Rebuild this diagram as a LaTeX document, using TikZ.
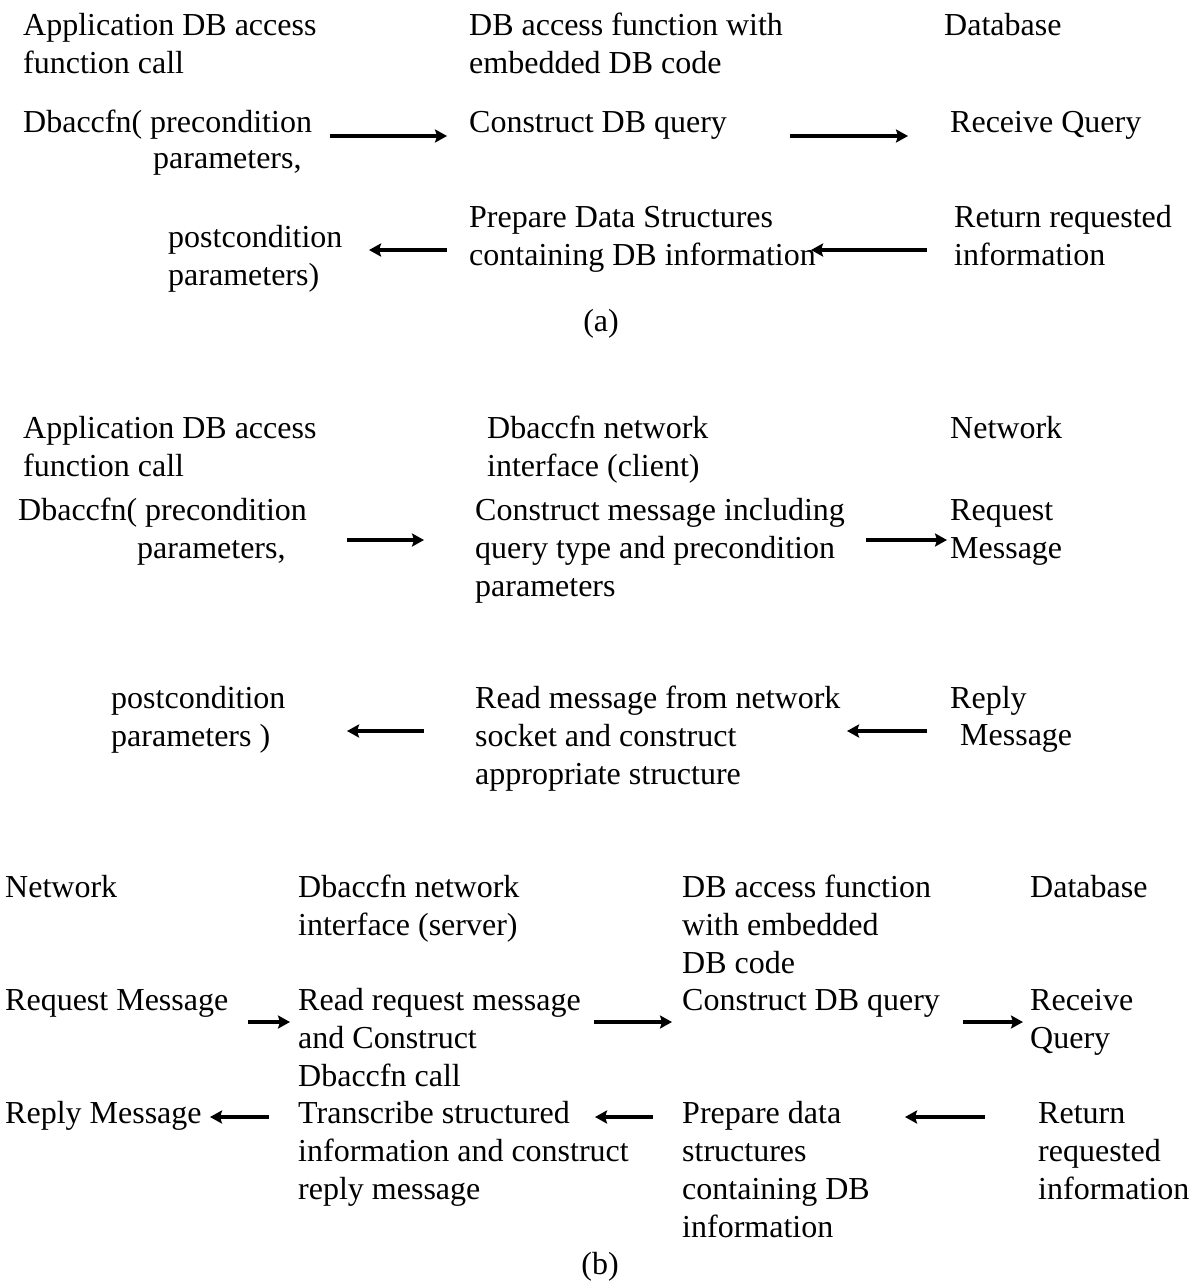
\documentclass[tikz,border=0pt]{standalone}
\usepackage{fontspec}
\setmainfont{Liberation Serif}
\usetikzlibrary{arrows.meta}
\pgfdeclarelayer{edgelayer}
\pgfdeclarelayer{nodelayer}
\pgfsetlayers{edgelayer,nodelayer,main}
\tikzset{font=\fontsize{32}{38}\selectfont}
\newcommand{\textlines}[1]{\begin{tabular}[t]{@{}l@{}}#1\end{tabular}}
\tikzstyle{none}=[inner sep=0pt]
\tikzstyle{words}=[anchor=base west,inner sep=0pt]
\tikzstyle{tag}=[anchor=base,inner sep=0pt]
\tikzstyle{flow}=[line width=4pt,-{Stealth[length=12pt,width=13pt,inset=2pt]}]

\begin{document}
\begin{tikzpicture}[x=1pt,y=1pt]
	\useasboundingbox (0,0) rectangle (1191,-1282);
	\begin{pgfonlayer}{nodelayer}
		% (a)
		\node [style=words] (0) at (23,-35) {\textlines{Application DB access\\function call}};
		\node [style=words] (1) at (469,-35) {\textlines{DB access function with\\embedded DB code}};
		\node [style=words] (2) at (944,-35) {Database};
		\node [style=words] (3) at (23,-132) {Dbaccfn( precondition};
		\node [style=words] (4) at (153,-168) {parameters,};
		\node [style=words] (5) at (469,-132) {Construct DB query};
		\node [style=words] (6) at (950,-132) {Receive Query};
		\node [style=words] (7) at (168,-247) {\textlines{postcondition\\parameters)}};
		\node [style=words] (8) at (469,-227) {\textlines{Prepare Data Structures\\containing DB information}};
		\node [style=words] (9) at (954,-227) {\textlines{Return requested\\information}};
		\node [style=tag] (10) at (601,-331) {(a)};
		\node [style=none] (40) at (330,-136) {};
		\node [style=none] (41) at (447,-136) {};
		\node [style=none] (42) at (790,-136) {};
		\node [style=none] (43) at (908,-136) {};
		\node [style=none] (44) at (927,-250) {};
		\node [style=none] (45) at (811,-250) {};
		\node [style=none] (46) at (447,-250) {};
		\node [style=none] (47) at (369,-250) {};
		% (b) client
		\node [style=words] (11) at (23,-438) {\textlines{Application DB access\\function call}};
		\node [style=words] (12) at (487,-438) {\textlines{Dbaccfn network\\interface (client)}};
		\node [style=words] (13) at (950,-438) {Network};
		\node [style=words] (14) at (18,-520) {Dbaccfn( precondition};
		\node [style=words] (15) at (137,-558) {parameters,};
		\node [style=words] (16) at (475,-520) {\textlines{Construct message including\\query type and precondition\\parameters}};
		\node [style=words] (17) at (950,-520) {\textlines{Request\\Message}};
		\node [style=words] (18) at (111,-708) {\textlines{postcondition\\parameters )}};
		\node [style=words] (19) at (475,-708) {\textlines{Read message from network\\socket and construct\\appropriate structure}};
		\node [style=words] (20) at (950,-708) {Reply};
		\node [style=words] (21) at (960,-745) {Message};
		\node [style=none] (50) at (347,-540) {};
		\node [style=none] (51) at (424,-540) {};
		\node [style=none] (52) at (866,-540) {};
		\node [style=none] (53) at (947,-540) {};
		\node [style=none] (54) at (927,-731) {};
		\node [style=none] (55) at (847,-731) {};
		\node [style=none] (56) at (424,-731) {};
		\node [style=none] (57) at (347,-731) {};
		% (b) server
		\node [style=words] (22) at (5,-897) {Network};
		\node [style=words] (23) at (298,-897) {\textlines{Dbaccfn network\\interface (server)}};
		\node [style=words] (24) at (682,-897) {\textlines{DB access function\\with embedded\\DB code}};
		\node [style=words] (25) at (1030,-897) {Database};
		\node [style=words] (26) at (5,-1010) {Request Message};
		\node [style=words] (27) at (298,-1010) {\textlines{Read request message\\and Construct\\Dbaccfn call}};
		\node [style=words] (28) at (682,-1010) {Construct DB query};
		\node [style=words] (29) at (1030,-1010) {\textlines{Receive\\Query}};
		\node [style=words] (30) at (5,-1123) {Reply Message};
		\node [style=words] (31) at (298,-1123) {\textlines{Transcribe structured\\information and construct\\reply message}};
		\node [style=words] (32) at (682,-1123) {\textlines{Prepare data\\structures\\containing DB\\information}};
		\node [style=words] (33) at (1038,-1123) {\textlines{Return\\requested\\information}};
		\node [style=tag] (34) at (600,-1274) {(b)};
		\node [style=none] (60) at (248,-1022) {};
		\node [style=none] (61) at (290,-1022) {};
		\node [style=none] (62) at (594,-1022) {};
		\node [style=none] (63) at (672,-1022) {};
		\node [style=none] (64) at (963,-1022) {};
		\node [style=none] (65) at (1023,-1022) {};
		\node [style=none] (66) at (269,-1117) {};
		\node [style=none] (67) at (210,-1117) {};
		\node [style=none] (68) at (653,-1117) {};
		\node [style=none] (69) at (595,-1117) {};
		\node [style=none] (70) at (985,-1117) {};
		\node [style=none] (71) at (905,-1117) {};
	\end{pgfonlayer}
	\begin{pgfonlayer}{edgelayer}
		\draw [style=flow] (40.center) to (41.center);
		\draw [style=flow] (42.center) to (43.center);
		\draw [style=flow] (44.center) to (45.center);
		\draw [style=flow] (46.center) to (47.center);
		\draw [style=flow] (50.center) to (51.center);
		\draw [style=flow] (52.center) to (53.center);
		\draw [style=flow] (54.center) to (55.center);
		\draw [style=flow] (56.center) to (57.center);
		\draw [style=flow] (60.center) to (61.center);
		\draw [style=flow] (62.center) to (63.center);
		\draw [style=flow] (64.center) to (65.center);
		\draw [style=flow] (66.center) to (67.center);
		\draw [style=flow] (68.center) to (69.center);
		\draw [style=flow] (70.center) to (71.center);
	\end{pgfonlayer}
\end{tikzpicture}
\end{document}
